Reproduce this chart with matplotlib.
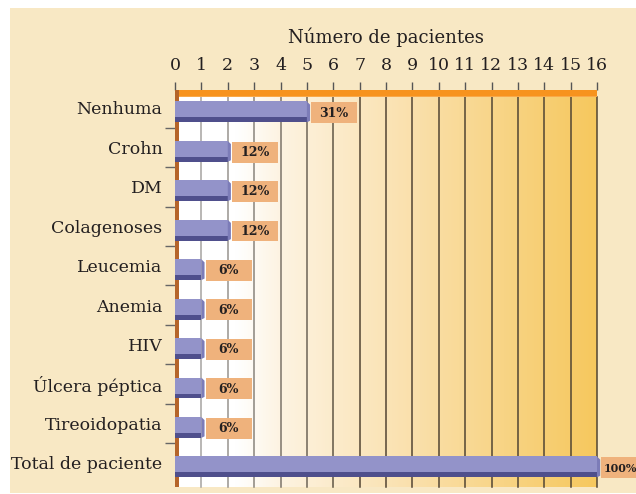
import numpy as np
import matplotlib.pyplot as plt
from matplotlib.patches import Rectangle, Polygon
from matplotlib.colors import LinearSegmentedColormap

# Data
categories = ["Nenhuma", "Crohn", "DM", "Colagenoses", "Leucemia", "Anemia",
              "HIV", "Úlcera péptica", "Tireoidopatia", "Total de paciente"]
patients = [5, 2, 2, 2, 1, 1, 1, 1, 1, 16]
percent_labels = ["31%", "12%", "12%", "12%", "6%", "6%", "6%", "6%", "6%", "100%"]
x_ticks = list(range(0, 17))

FONT = "DejaVu Serif"
TEXT = "#231f20"
CREAM = "#f8e8c4"
BAR_FACE = "#9393c9"
BAR_DARK = "#4f4f8c"
BAR_CAP = "#7c7cb8"
LABEL_BOX = "#efb27c"

W, H = 636, 494
fig = plt.figure(figsize=(W / 100, H / 100), dpi=100)
fig.patch.set_facecolor("white")
fig.patches.append(Rectangle((10 / W, 1 - 493 / H), 1 - 10 / W, (493 - 8) / H,
                             transform=fig.transFigure, facecolor=CREAM,
                             edgecolor="none", zorder=-10))

ax = fig.add_axes([175 / W, 1 - 487 / H, (597 - 175) / W, (487 - 90) / H])
ax.set_facecolor("none")

n = len(categories)
y_top, y_bot = -0.456, n - 1 + 0.61
band = 0.19
band_top = y_top + band
ax.set_xlim(0, 16)
ax.set_ylim(y_bot, y_top)

# background gradient (white on the left, to golden yellow on the right)
cmap = LinearSegmentedColormap.from_list(
    "bg", [(0, "#ffffff"), (2.3 / 16, "#ffffff"), (4 / 16, "#fdf3e1"),
           (9 / 16, "#fae0ac"), (1, "#f6c85e")])
grad = np.linspace(0, 1, 400).reshape(1, -1)
ax.imshow(grad, cmap=cmap, extent=[0, 16, y_bot, band_top], aspect="auto",
          zorder=0, interpolation="bicubic")

# vertical grid lines, lighter on the white side
light = np.array([0.70, 0.70, 0.70])
dark = np.array([0.32, 0.27, 0.20])
for t in x_ticks[1:]:
    f = min(1.0, t / 7)
    c = light * (1 - f) + dark * f
    ax.plot([t, t], [y_bot, band_top], color=c, lw=1.1, zorder=1, clip_on=False)

# top orange band and left wall
ax.add_patch(Rectangle((0, y_top), 16, band, facecolor="#f7931e",
                       edgecolor="none", zorder=2, clip_on=False))
ax.add_patch(Rectangle((0, band_top - 0.035), 16, 0.035, facecolor="#f9a94a",
                       edgecolor="none", zorder=2, clip_on=False))
ax.add_patch(Rectangle((0, y_top), 0.15, y_bot - y_top, facecolor="#b5652a",
                       edgecolor="none", zorder=3, clip_on=False))

# bars with a 3D look
bar_h = 0.53
for i, (v, lab) in enumerate(zip(patients, percent_labels)):
    yc = i + 0.1
    top = yc - bar_h / 2
    bottom = yc + bar_h / 2
    split = yc + 0.14
    ax.add_patch(Rectangle((0, top), v, split - top, facecolor=BAR_FACE,
                           edgecolor="none", zorder=4))
    ax.add_patch(Rectangle((0, split), v, bottom - split, facecolor=BAR_DARK,
                           edgecolor="none", zorder=4))
    ax.add_patch(Polygon([(v, top), (v + 0.12, top + 0.08), (v + 0.12, bottom - 0.04),
                          (v, bottom)], closed=True, facecolor=BAR_CAP,
                         edgecolor="none", zorder=4, clip_on=False))
    bx = v + 0.16
    last = v >= 16
    bw = 2.2 if last else 1.75
    ax.add_patch(Rectangle((bx, top + 0.02), bw, bar_h, facecolor=LABEL_BOX,
                           edgecolor="none", zorder=5, clip_on=False))
    ax.text(bx + (0.1 if last else bw / 2), yc + 0.03, lab,
            ha="left" if last else "center", va="center",
            fontsize=8 if last else 9, fontweight="bold", family=FONT,
            color=TEXT, zorder=6, clip_on=False)

# axes and ticks
for s in ax.spines.values():
    s.set_visible(False)
ax.xaxis.tick_top()
ax.set_xticks(x_ticks)
ax.set_xticklabels([str(t) for t in x_ticks], fontsize=12.5, family=FONT, color=TEXT)
ax.tick_params(axis="x", length=5.5, width=1, color="#555555", pad=6)

ax.set_yticks(range(n))
ax.set_yticklabels(categories, fontsize=12.5, family=FONT, color=TEXT)
ax.tick_params(axis="y", which="major", length=0, pad=9)
ax.set_yticks([i + 0.5 for i in range(n - 1)], minor=True)
ax.tick_params(axis="y", which="minor", length=7.5, width=1, color="#666666")

fig.text(385.5 / W, 1 - 37 / H, "Número de pacientes", ha="center", va="center",
         fontsize=13, family=FONT, color=TEXT)

fig.savefig("out.png", dpi=100, facecolor=fig.get_facecolor())
